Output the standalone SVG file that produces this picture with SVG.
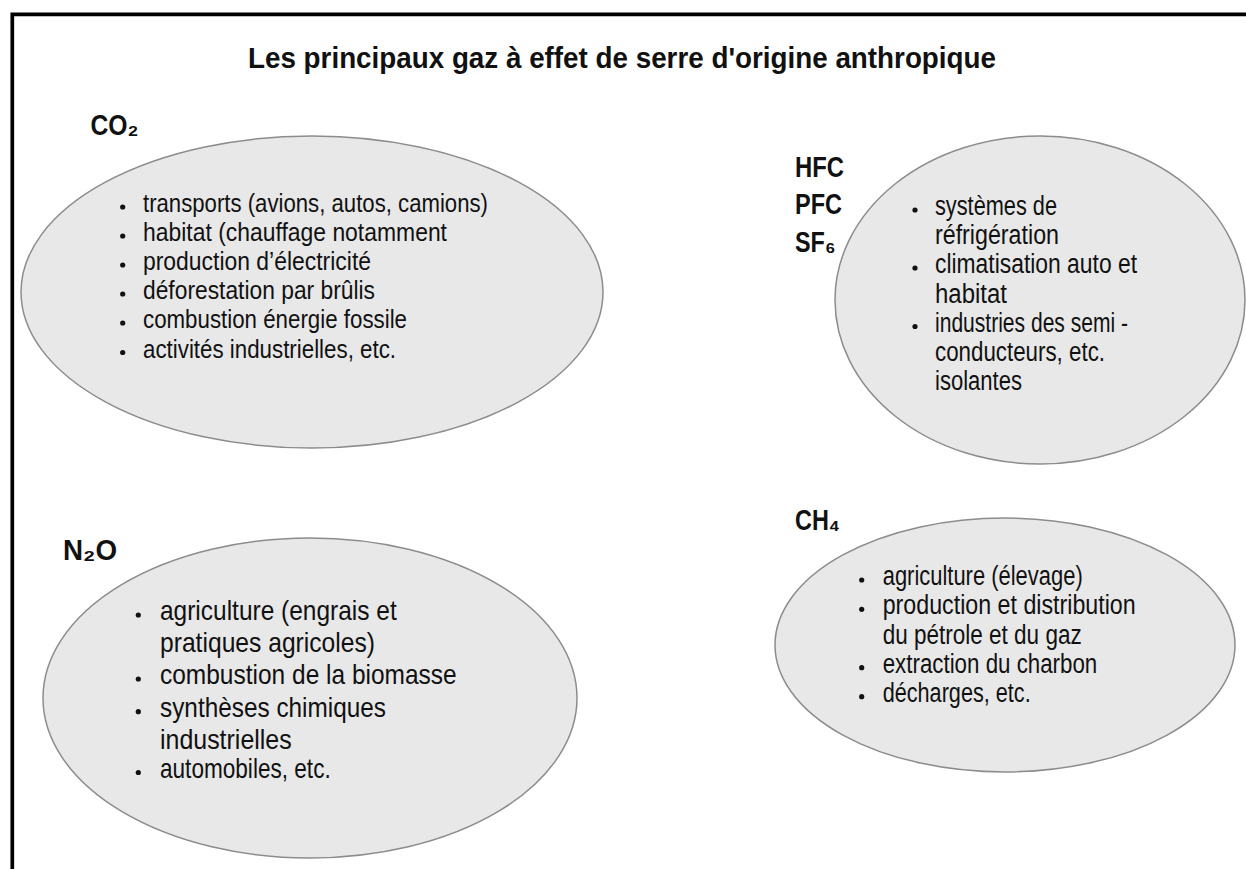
<svg xmlns="http://www.w3.org/2000/svg" width="1246" height="869" viewBox="0 0 1246 869">
<style>
.bubble{fill:#e8e8e8;stroke:#8c8c8c;stroke-width:1.5}
.frame{fill:none;stroke:#000;stroke-width:3.7}
.t{font-family:"Liberation Sans Narrow","Liberation Sans",Arial,sans-serif;fill:#111}
.title{font-weight:bold;font-size:30px}
.lbl{font-weight:bold;font-size:29px}
.i26{font-size:26px}
.i27{font-size:27px}
.i28{font-size:28px}
.dot{fill:#111}
</style>
<rect width="1246" height="869" fill="#fff"/>
<g id="frame"><path class="frame" d="M12.3,869 V14.3 H1246"/></g>
<g id="title"><text class="t title" x="248" y="67.5" textLength="748" lengthAdjust="spacingAndGlyphs">Les principaux gaz à effet de serre d'origine anthropique</text></g>
<g id="connectors"/>
<g id="co2">
<ellipse class="bubble" cx="312" cy="292" rx="291" ry="156"/>
<text class="t lbl" x="90.5" y="134.5" textLength="48" lengthAdjust="spacingAndGlyphs">CO₂</text>
<g class="t i26">
<text x="143" y="212" textLength="345" lengthAdjust="spacingAndGlyphs">transports (avions, autos, camions)</text>
<text x="143" y="241" textLength="304" lengthAdjust="spacingAndGlyphs">habitat (chauffage notamment</text>
<text x="143" y="270" textLength="228" lengthAdjust="spacingAndGlyphs">production d’électricité</text>
<text x="143" y="299" textLength="232" lengthAdjust="spacingAndGlyphs">déforestation par brûlis</text>
<text x="143" y="328" textLength="264" lengthAdjust="spacingAndGlyphs">combustion énergie fossile</text>
<text x="143" y="357.5" textLength="253" lengthAdjust="spacingAndGlyphs">activités industrielles, etc.</text>
</g>
<g class="dot">
<circle cx="122.7" cy="207" r="2.6"/><circle cx="122.7" cy="236" r="2.6"/><circle cx="122.7" cy="265" r="2.6"/>
<circle cx="122.7" cy="294" r="2.6"/><circle cx="122.7" cy="323" r="2.6"/><circle cx="122.7" cy="352.5" r="2.6"/>
</g>
</g>
<g id="hfc">
<ellipse class="bubble" cx="1040" cy="300" rx="205" ry="164"/>
<text class="t lbl" x="795" y="177" textLength="49" lengthAdjust="spacingAndGlyphs">HFC</text>
<text class="t lbl" x="795" y="214" textLength="47" lengthAdjust="spacingAndGlyphs">PFC</text>
<text class="t lbl" x="795" y="252" textLength="40.5" lengthAdjust="spacingAndGlyphs">SF₆</text>
<g class="t i27">
<text x="935" y="215" textLength="122" lengthAdjust="spacingAndGlyphs">systèmes de</text>
<text x="935" y="244" textLength="124" lengthAdjust="spacingAndGlyphs">réfrigération</text>
<text x="935" y="273" textLength="202" lengthAdjust="spacingAndGlyphs">climatisation auto et</text>
<text x="935" y="302.5" textLength="72" lengthAdjust="spacingAndGlyphs">habitat</text>
<text x="935" y="331.5" textLength="193" lengthAdjust="spacingAndGlyphs">industries des semi -</text>
<text x="935" y="360.5" textLength="170" lengthAdjust="spacingAndGlyphs">conducteurs, etc.</text>
<text x="935" y="389.5" textLength="87" lengthAdjust="spacingAndGlyphs">isolantes</text>
</g>
<g class="dot">
<circle cx="915" cy="210" r="2.6"/><circle cx="915" cy="268" r="2.6"/><circle cx="915" cy="326.5" r="2.6"/>
</g>
</g>
<g id="n2o">
<ellipse class="bubble" cx="310" cy="698" rx="267" ry="160"/>
<text class="t lbl" x="63" y="559.5" textLength="54" lengthAdjust="spacingAndGlyphs">N₂O</text>
<g class="t i28">
<text x="160" y="620" textLength="236.7" lengthAdjust="spacingAndGlyphs">agriculture (engrais et</text>
<text x="160" y="651.7" textLength="215" lengthAdjust="spacingAndGlyphs">pratiques agricoles)</text>
<text x="160" y="684" textLength="296.7" lengthAdjust="spacingAndGlyphs">combustion de la biomasse</text>
<text x="160" y="716.7" textLength="226" lengthAdjust="spacingAndGlyphs">synthèses chimiques</text>
<text x="160" y="749" textLength="131.7" lengthAdjust="spacingAndGlyphs">industrielles</text>
<text x="160" y="777.5" textLength="170.7" lengthAdjust="spacingAndGlyphs">automobiles, etc.</text>
</g>
<g class="dot">
<circle cx="138.3" cy="615" r="2.6"/><circle cx="138.3" cy="679" r="2.6"/><circle cx="138.3" cy="711.7" r="2.6"/><circle cx="138.3" cy="772.5" r="2.6"/>
</g>
</g>
<g id="ch4">
<ellipse class="bubble" cx="1005" cy="645" rx="230" ry="127"/>
<text class="t lbl" x="795" y="529.5" textLength="45" lengthAdjust="spacingAndGlyphs">CH₄</text>
<g class="t i27">
<text x="882.7" y="585" textLength="200" lengthAdjust="spacingAndGlyphs">agriculture (élevage)</text>
<text x="882.7" y="614.3" textLength="253" lengthAdjust="spacingAndGlyphs">production et distribution</text>
<text x="882.7" y="644" textLength="199" lengthAdjust="spacingAndGlyphs">du pétrole et du gaz</text>
<text x="882.7" y="672.7" textLength="214.6" lengthAdjust="spacingAndGlyphs">extraction du charbon</text>
<text x="882.7" y="701.7" textLength="148" lengthAdjust="spacingAndGlyphs">décharges, etc.</text>
</g>
<g class="dot">
<circle cx="861.7" cy="580" r="2.6"/><circle cx="861.7" cy="609.3" r="2.6"/><circle cx="861.7" cy="667.7" r="2.6"/><circle cx="861.7" cy="696.7" r="2.6"/>
</g>
</g>
</svg>
